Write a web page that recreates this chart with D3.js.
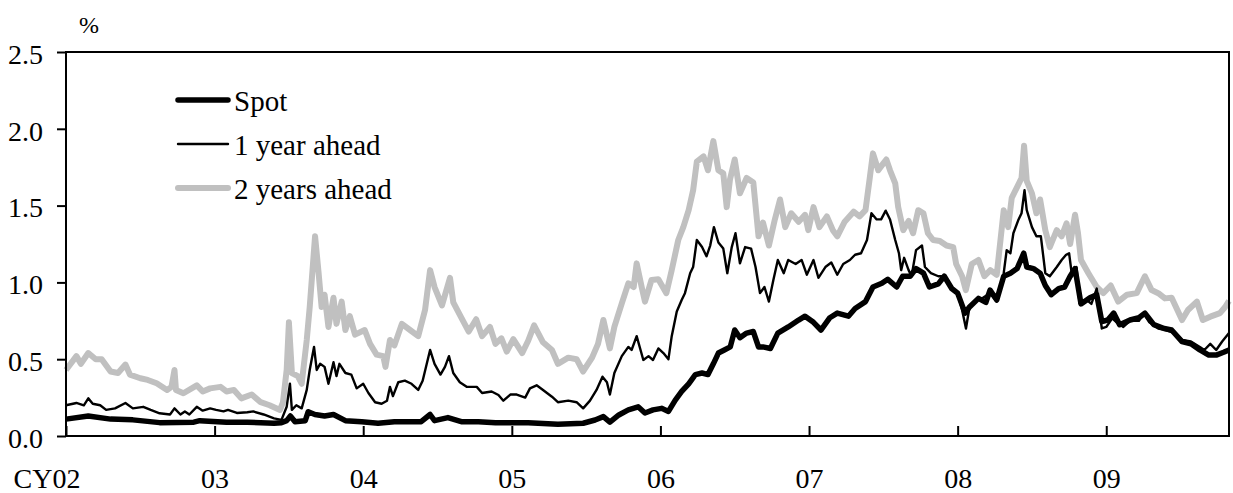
<!DOCTYPE html>
<html>
<head>
<meta charset="utf-8">
<script src="https://cdn.jsdelivr.net/npm/d3@7"></script>
<style>
  body { margin: 0; background: #fff; }
  svg { display: block; }
  text { font-family: "Liberation Serif", "Times New Roman", serif; fill: #000; }
</style>
</head>
<body>
<svg id="chart" width="1233" height="493"></svg>
<script>
// ---- data: [decimal year, percent] ----
const yearTicks = [2002, 2003, 2004, 2005, 2006, 2007, 2008, 2009];
const valueTicks = [0, 0.5, 1.0, 1.5, 2.0, 2.5];
const seriesNames = ["Spot", "1 year ahead", "2 years ahead"];
const lastDate = 2009.826;

const spot = [
  [2002.00,0.11],[2002.15,0.13],[2002.30,0.11],[2002.45,0.105],[2002.63,0.087],[2002.86,0.09],[2002.90,0.10],
  [2003.08,0.09],[2003.22,0.09],[2003.40,0.083],[2003.45,0.087],[2003.485,0.10],[2003.51,0.13],[2003.541,0.093],
  [2003.61,0.10],[2003.63,0.158],[2003.675,0.14],[2003.74,0.13],[2003.80,0.14],[2003.88,0.10],[2003.99,0.093],
  [2004.10,0.083],[2004.21,0.093],[2004.325,0.093],[2004.39,0.093],[2004.45,0.14],[2004.48,0.10],[2004.57,0.12],
  [2004.66,0.093],[2004.775,0.093],[2004.89,0.087],[2005.00,0.087],[2005.11,0.087],[2005.31,0.077],[2005.48,0.083],
  [2005.56,0.104],[2005.616,0.126],[2005.66,0.09],[2005.72,0.137],[2005.784,0.17],[2005.85,0.19],[2005.896,0.15],
  [2005.95,0.17],[2006.008,0.18],[2006.054,0.16],[2006.10,0.234],[2006.143,0.29],[2006.19,0.34],[2006.235,0.40],
  [2006.28,0.41],[2006.32,0.40],[2006.356,0.47],[2006.39,0.54],[2006.43,0.56],[2006.47,0.58],[2006.50,0.69],
  [2006.535,0.64],[2006.58,0.67],[2006.625,0.68],[2006.66,0.58],[2006.69,0.58],[2006.74,0.57],[2006.79,0.67],
  [2006.86,0.71],[2006.93,0.755],[2006.973,0.78],[2007.03,0.74],[2007.08,0.69],[2007.14,0.77],[2007.19,0.80],
  [2007.265,0.78],[2007.31,0.83],[2007.38,0.875],[2007.43,0.97],[2007.49,0.994],[2007.53,1.02],[2007.59,0.97],
  [2007.63,1.04],[2007.68,1.04],[2007.72,1.09],[2007.77,1.06],[2007.81,0.97],[2007.87,0.99],[2007.91,1.04],
  [2007.96,0.96],[2008.00,0.93],[2008.05,0.80],[2008.08,0.84],[2008.14,0.896],[2008.19,0.87],[2008.218,0.95],
  [2008.263,0.885],[2008.31,1.04],[2008.355,1.06],[2008.40,1.09],[2008.445,1.19],[2008.465,1.10],[2008.51,1.09],
  [2008.555,1.06],[2008.59,0.98],[2008.63,0.92],[2008.68,0.96],[2008.72,0.97],[2008.757,1.04],[2008.79,1.09],
  [2008.83,0.86],[2008.89,0.90],[2008.936,0.92],[2008.97,0.745],[2009.01,0.755],[2009.05,0.80],[2009.09,0.725],
  [2009.16,0.755],[2009.22,0.77],[2009.26,0.80],[2009.32,0.725],[2009.39,0.70],[2009.44,0.69],[2009.51,0.615],
  [2009.57,0.60],[2009.63,0.56],[2009.69,0.527],[2009.74,0.527],[2009.79,0.545],[2009.826,0.56]
];

const oneYearAhead = [
  [2002.00,0.20],[2002.07,0.215],[2002.12,0.20],[2002.15,0.245],[2002.18,0.21],[2002.23,0.20],[2002.27,0.17],
  [2002.33,0.18],[2002.40,0.215],[2002.45,0.18],[2002.52,0.19],[2002.57,0.17],[2002.63,0.148],[2002.70,0.14],
  [2002.73,0.18],[2002.77,0.14],[2002.80,0.16],[2002.83,0.14],[2002.88,0.19],[2002.92,0.165],[2002.97,0.18],
  [2003.01,0.17],[2003.06,0.16],[2003.09,0.17],[2003.15,0.15],[2003.22,0.155],[2003.26,0.16],[2003.33,0.14],
  [2003.40,0.115],[2003.45,0.105],[2003.485,0.19],[2003.507,0.34],[2003.52,0.17],[2003.55,0.20],[2003.586,0.18],
  [2003.62,0.30],[2003.64,0.43],[2003.669,0.58],[2003.687,0.43],[2003.71,0.47],[2003.74,0.45],[2003.766,0.34],
  [2003.80,0.48],[2003.82,0.39],[2003.84,0.47],[2003.88,0.41],[2003.92,0.40],[2003.956,0.31],[2004.00,0.34],
  [2004.035,0.28],[2004.08,0.22],[2004.124,0.21],[2004.16,0.23],[2004.18,0.32],[2004.20,0.26],[2004.236,0.35],
  [2004.28,0.36],[2004.325,0.34],[2004.37,0.30],[2004.40,0.36],[2004.45,0.56],[2004.48,0.47],[2004.52,0.40],
  [2004.55,0.45],[2004.577,0.52],[2004.606,0.41],[2004.65,0.35],[2004.696,0.32],[2004.764,0.32],[2004.80,0.28],
  [2004.864,0.29],[2004.91,0.267],[2004.943,0.23],[2004.99,0.27],[2005.033,0.27],[2005.09,0.25],[2005.122,0.31],
  [2005.167,0.33],[2005.21,0.30],[2005.27,0.256],[2005.31,0.22],[2005.38,0.23],[2005.436,0.22],[2005.48,0.18],
  [2005.526,0.23],[2005.57,0.30],[2005.61,0.386],[2005.64,0.35],[2005.66,0.27],[2005.69,0.41],[2005.74,0.52],
  [2005.784,0.58],[2005.806,0.56],[2005.84,0.65],[2005.885,0.495],[2005.92,0.52],[2005.95,0.495],[2005.986,0.57],
  [2006.02,0.54],[2006.054,0.50],[2006.076,0.65],[2006.11,0.81],[2006.143,0.885],[2006.165,0.93],[2006.20,1.06],
  [2006.22,1.10],[2006.245,1.276],[2006.28,1.23],[2006.31,1.17],[2006.335,1.24],[2006.36,1.36],[2006.39,1.26],
  [2006.423,1.22],[2006.45,1.06],[2006.48,1.23],[2006.505,1.32],[2006.535,1.124],[2006.57,1.23],[2006.61,1.22],
  [2006.64,1.10],[2006.67,0.93],[2006.70,0.97],[2006.73,0.875],[2006.76,1.016],[2006.79,1.146],[2006.83,1.06],
  [2006.86,1.146],[2006.91,1.12],[2006.95,1.146],[2006.985,1.05],[2007.03,1.146],[2007.063,1.03],[2007.11,1.10],
  [2007.15,1.13],[2007.19,1.05],[2007.23,1.12],[2007.275,1.146],[2007.31,1.18],[2007.35,1.19],[2007.39,1.276],
  [2007.42,1.45],[2007.455,1.41],[2007.485,1.41],[2007.516,1.467],[2007.545,1.41],[2007.58,1.276],[2007.605,1.19],
  [2007.62,1.08],[2007.64,1.16],[2007.67,1.08],[2007.69,1.04],[2007.72,1.21],[2007.76,1.24],[2007.78,1.10],
  [2007.82,1.06],[2007.87,1.04],[2007.91,1.04],[2007.96,0.97],[2008.00,0.93],[2008.03,0.82],[2008.056,0.70],
  [2008.08,0.84],[2008.13,0.885],[2008.17,0.90],[2008.218,0.93],[2008.263,0.875],[2008.31,1.06],[2008.33,1.21],
  [2008.355,1.19],[2008.375,1.32],[2008.41,1.41],[2008.43,1.45],[2008.45,1.60],[2008.465,1.47],[2008.50,1.36],
  [2008.53,1.30],[2008.56,1.30],[2008.59,1.06],[2008.62,1.04],[2008.667,1.10],[2008.70,1.146],[2008.73,1.18],
  [2008.75,1.19],[2008.77,1.04],[2008.80,1.10],[2008.82,0.864],[2008.87,0.885],[2008.90,0.86],[2008.936,0.96],
  [2008.97,0.70],[2009.00,0.71],[2009.04,0.766],[2009.07,0.74],[2009.115,0.71],[2009.16,0.75],[2009.22,0.75],
  [2009.25,0.80],[2009.29,0.74],[2009.35,0.70],[2009.40,0.69],[2009.46,0.67],[2009.51,0.625],[2009.57,0.615],
  [2009.63,0.58],[2009.66,0.56],[2009.70,0.60],[2009.74,0.56],[2009.78,0.615],[2009.826,0.67]
];

const twoYearsAhead = [
  [2002.00,0.43],[2002.07,0.52],[2002.10,0.47],[2002.15,0.54],[2002.20,0.50],[2002.24,0.50],[2002.30,0.42],
  [2002.35,0.41],[2002.40,0.465],[2002.43,0.40],[2002.50,0.376],[2002.55,0.365],[2002.61,0.343],[2002.68,0.30],
  [2002.71,0.32],[2002.73,0.43],[2002.74,0.30],[2002.79,0.278],[2002.88,0.33],[2002.92,0.29],[2002.97,0.31],
  [2003.04,0.32],[2003.08,0.29],[2003.13,0.30],[2003.18,0.245],[2003.25,0.27],[2003.31,0.22],[2003.37,0.20],
  [2003.44,0.17],[2003.46,0.22],[2003.485,0.43],[2003.50,0.74],[2003.52,0.41],[2003.56,0.39],[2003.586,0.34],
  [2003.62,0.625],[2003.64,0.84],[2003.676,1.30],[2003.70,1.06],[2003.72,0.84],[2003.74,0.92],[2003.766,0.71],
  [2003.80,0.90],[2003.82,0.73],[2003.855,0.875],[2003.88,0.69],[2003.91,0.78],[2003.945,0.66],[2004.01,0.69],
  [2004.046,0.60],[2004.09,0.53],[2004.135,0.52],[2004.15,0.45],[2004.18,0.625],[2004.21,0.59],[2004.26,0.73],
  [2004.315,0.69],[2004.37,0.65],[2004.416,0.82],[2004.45,1.08],[2004.48,0.97],[2004.53,0.85],[2004.584,1.03],
  [2004.606,0.87],[2004.66,0.77],[2004.71,0.68],[2004.76,0.76],[2004.80,0.65],[2004.853,0.71],[2004.89,0.60],
  [2004.93,0.636],[2004.966,0.55],[2005.01,0.63],[2005.07,0.54],[2005.11,0.62],[2005.15,0.72],[2005.21,0.61],
  [2005.27,0.56],[2005.31,0.47],[2005.38,0.51],[2005.436,0.50],[2005.48,0.42],[2005.54,0.51],[2005.58,0.60],
  [2005.616,0.755],[2005.66,0.57],[2005.69,0.71],[2005.74,0.864],[2005.784,0.994],[2005.82,0.97],[2005.84,1.124],
  [2005.874,0.97],[2005.896,0.875],[2005.94,1.016],[2005.986,1.02],[2006.04,0.93],[2006.076,1.08],[2006.12,1.276],
  [2006.154,1.36],[2006.19,1.47],[2006.22,1.60],[2006.245,1.786],[2006.29,1.82],[2006.32,1.73],[2006.356,1.92],
  [2006.39,1.73],[2006.423,1.71],[2006.446,1.49],[2006.468,1.67],[2006.50,1.80],[2006.535,1.58],[2006.58,1.68],
  [2006.625,1.65],[2006.66,1.30],[2006.69,1.39],[2006.73,1.24],[2006.77,1.41],[2006.805,1.54],[2006.84,1.36],
  [2006.88,1.45],[2006.93,1.395],[2006.973,1.44],[2006.995,1.34],[2007.03,1.49],[2007.07,1.36],[2007.12,1.43],
  [2007.16,1.34],[2007.19,1.30],[2007.24,1.395],[2007.30,1.46],[2007.34,1.43],[2007.38,1.47],[2007.41,1.69],
  [2007.43,1.84],[2007.466,1.73],[2007.50,1.775],[2007.52,1.80],[2007.545,1.73],[2007.58,1.645],[2007.60,1.49],
  [2007.634,1.34],[2007.67,1.40],[2007.70,1.32],[2007.735,1.47],[2007.77,1.45],[2007.80,1.32],[2007.835,1.276],
  [2007.88,1.27],[2007.925,1.24],[2007.97,1.23],[2007.99,1.12],[2008.03,1.04],[2008.055,0.95],[2008.095,1.12],
  [2008.14,1.146],[2008.18,1.04],[2008.22,1.08],[2008.263,1.05],[2008.31,1.47],[2008.34,1.36],[2008.364,1.55],
  [2008.40,1.62],[2008.43,1.68],[2008.447,1.89],[2008.465,1.66],[2008.50,1.58],[2008.53,1.45],[2008.555,1.54],
  [2008.59,1.34],[2008.62,1.23],[2008.667,1.34],[2008.70,1.30],[2008.733,1.385],[2008.757,1.25],[2008.79,1.44],
  [2008.81,1.32],[2008.83,1.146],[2008.88,1.06],[2008.936,0.97],[2008.98,0.93],[2009.03,0.98],[2009.08,0.875],
  [2009.14,0.92],[2009.205,0.93],[2009.26,1.04],[2009.305,0.95],[2009.35,0.93],[2009.395,0.896],[2009.44,0.90],
  [2009.51,0.755],[2009.55,0.82],[2009.61,0.875],[2009.65,0.755],[2009.70,0.777],[2009.765,0.80],[2009.80,0.84],
  [2009.826,0.88]
];

// ---- layout ----
const plot = { left: 66, top: 52, right: 1229, bottom: 436 };
const svg = d3.select("#chart");
const serif = "'Liberation Serif', 'Times New Roman', serif";

const x = d3.scaleLinear().domain([yearTicks[0], lastDate]).range([plot.left, plot.right]);
const y = d3.scaleLinear().domain([0, 2.5]).range([plot.bottom, plot.top]);

const styles = {
  "Spot":          { data: spot,          color: "#000000", width: 5.5 },
  "1 year ahead":  { data: oneYearAhead,  color: "#000000", width: 2.4 },
  "2 years ahead": { data: twoYearsAhead, color: "#c0c0c0", width: 6 }
};

// y axis: outward ticks on the left edge
const yAxis = svg.append("g")
  .attr("transform", `translate(${plot.left},0)`)
  .call(d3.axisLeft(y).tickValues(valueTicks).tickFormat(d3.format(".1f"))
        .tickSize(9).tickPadding(14));
yAxis.select(".domain").remove();
yAxis.selectAll("line").attr("stroke", "#000").attr("stroke-width", 2);
yAxis.selectAll("text").attr("font-size", 28).attr("dy", "0.4em").style("font-family", serif);

// x axis: inward ticks at each calendar year
const xAxis = svg.append("g")
  .attr("transform", `translate(0,${plot.bottom})`)
  .call(d3.axisBottom(x).tickValues(yearTicks)
        .tickFormat(d => d3.format("02")(d % 100))
        .tickSizeInner(-10).tickSizeOuter(0));
xAxis.select(".domain").remove();
xAxis.selectAll("line").attr("stroke", "#000").attr("stroke-width", 2);
xAxis.selectAll("text")
  .attr("font-size", 28).attr("y", 52).attr("dy", null).style("font-family", serif);
xAxis.selectAll(".tick").filter(d => d === yearTicks[0]).select("text")
  .text("CY02").attr("text-anchor", "end").attr("x", 14);

// series, grey behind the black lines
const line = d3.line().x(d => x(d[0])).y(d => y(d[1]));
["2 years ahead", "Spot", "1 year ahead"].forEach(name => {
  const s = styles[name];
  svg.append("path")
    .datum(s.data)
    .attr("fill", "none")
    .attr("stroke", s.color)
    .attr("stroke-width", s.width)
    .attr("stroke-linejoin", "round")
    .attr("d", line);
});

// plot frame
svg.append("rect")
  .attr("x", plot.left).attr("y", plot.top)
  .attr("width", plot.right - plot.left).attr("height", plot.bottom - plot.top)
  .attr("fill", "none").attr("stroke", "#000").attr("stroke-width", 2);

// unit label
svg.append("text").attr("x", 79).attr("y", 33).attr("font-size", 24).text("%");

// legend
const legend = svg.append("g");
seriesNames.forEach((name, i) => {
  const s = styles[name];
  const ly = 100 + i * 44;
  legend.append("line")
    .attr("x1", 178).attr("x2", 228).attr("y1", ly).attr("y2", ly)
    .attr("stroke", s.color).attr("stroke-width", s.width).attr("stroke-linecap", "round");
  legend.append("text")
    .attr("x", 234).attr("y", ly + 11).attr("font-size", 29).text(name);
});
</script>
</body>
</html>
